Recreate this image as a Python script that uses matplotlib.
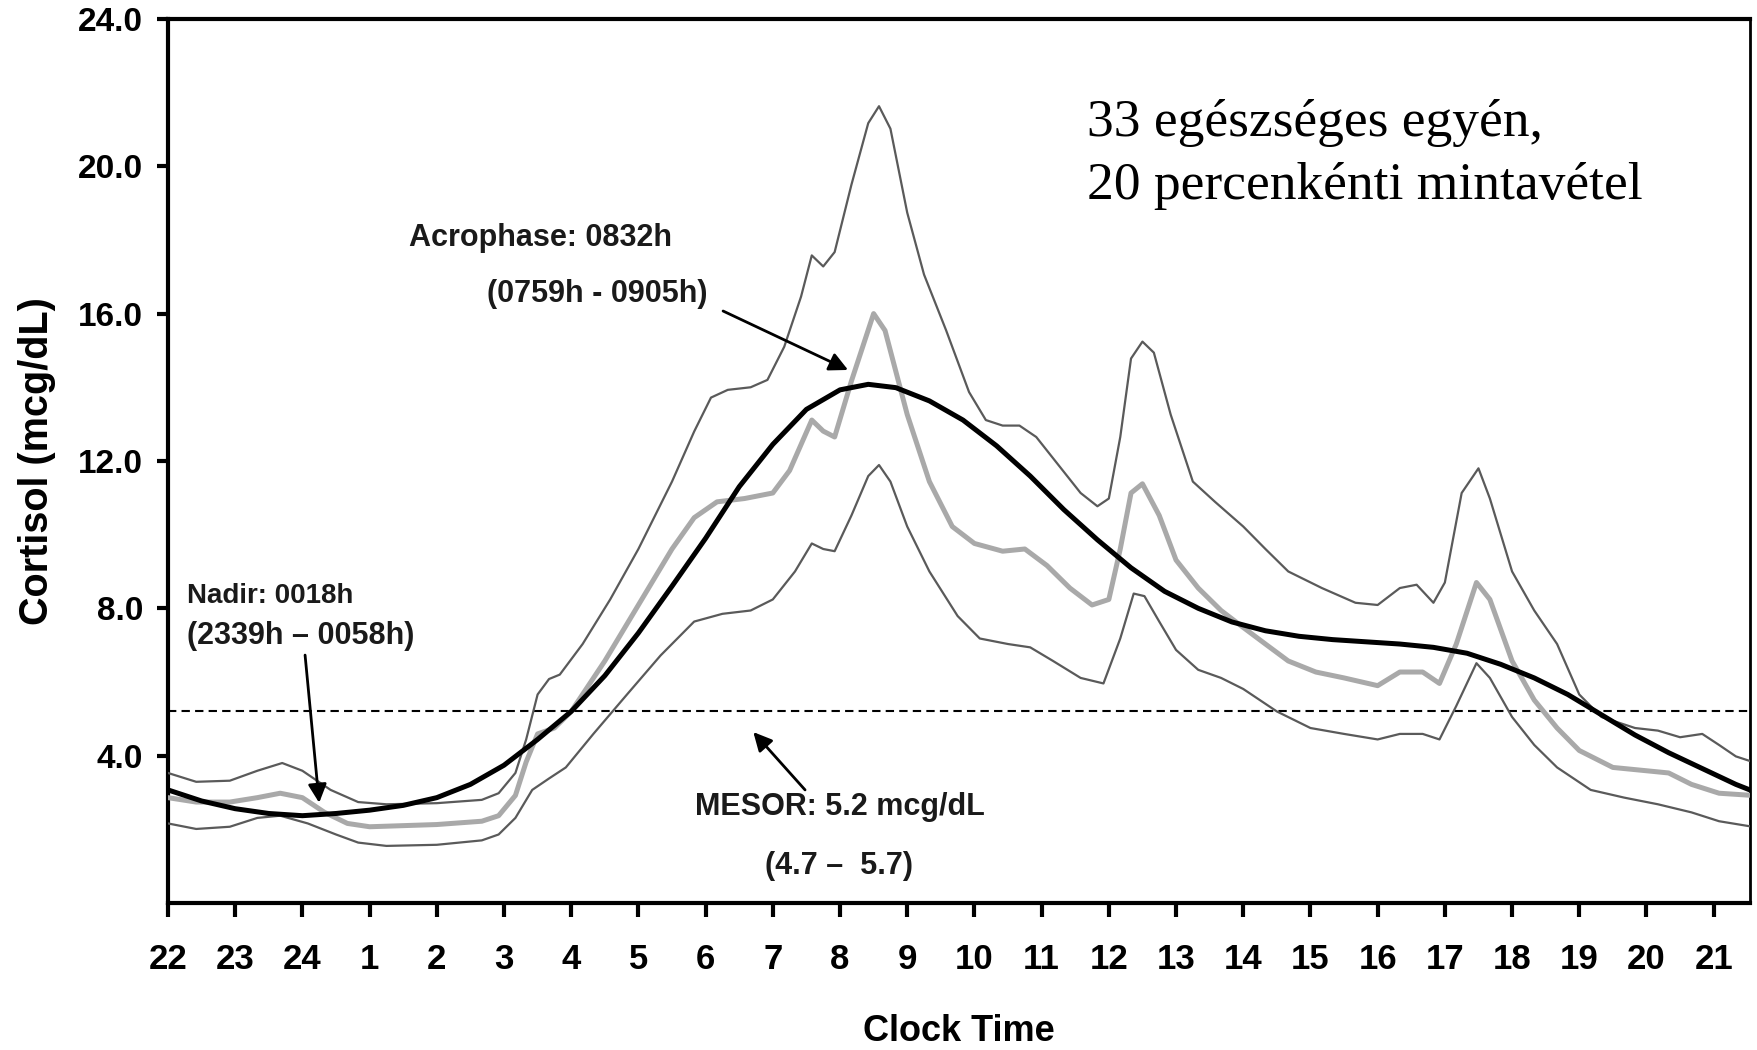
import matplotlib
matplotlib.use("Agg")
import matplotlib.pyplot as plt
import numpy as np

SANS = ["Liberation Sans", "DejaVu Sans"]
SERIF = ["Liberation Serif", "DejaVu Serif"]

# x positions are hours after 22:00
hour_labels = ["22", "23", "24", "1", "2", "3", "4", "5", "6", "7", "8", "9",
               "10", "11", "12", "13", "14", "15", "16", "17", "18", "19", "20", "21"]
y_ticks = [4.0, 8.0, 12.0, 16.0, 20.0, 24.0]

# upper percentile band
t_upper = [0, 0.42, 0.92, 1.33, 1.7, 2.0, 2.42, 2.83, 3.25, 4.0, 4.67, 4.92, 5.17, 5.33,
           5.5, 5.67, 5.83, 6.17, 6.58, 7.0, 7.5, 7.83, 8.08, 8.33, 8.67, 8.92, 9.17,
           9.42, 9.58, 9.75, 9.92, 10.17, 10.42, 10.58, 10.75, 11.0, 11.25, 11.58,
           11.92, 12.17, 12.42, 12.67, 12.92, 13.25, 13.58, 13.83, 14.0, 14.17, 14.33,
           14.5, 14.67, 14.92, 15.25, 15.58, 16.0, 16.33, 16.67, 17.17, 17.67, 18.0,
           18.33, 18.58, 18.83, 19.0, 19.25, 19.5, 19.67, 20.0, 20.33, 20.67, 21.0,
           21.33, 21.83, 22.17, 22.5, 22.83, 23.08, 23.33, 23.58]
upper = [3.53, 3.29, 3.32, 3.59, 3.80, 3.59, 3.07, 2.74, 2.68, 2.71, 2.80, 2.98, 3.53, 4.44,
         5.66, 6.08, 6.2, 7.03, 8.24, 9.61, 11.44, 12.8, 13.72, 13.93, 14.0, 14.2, 15.1,
         16.46, 17.58, 17.28, 17.67, 19.5, 21.17, 21.63, 21.02, 18.74, 17.06, 15.54,
         13.87, 13.11, 12.96, 12.96, 12.65, 11.89, 11.13, 10.77, 10.98, 12.65, 14.78,
         15.24, 14.94, 13.26, 11.44, 10.89, 10.22, 9.61, 9.0, 8.55, 8.15, 8.09,
         8.55, 8.64, 8.15, 8.7, 11.13, 11.8, 10.98, 9.0, 7.94, 7.03, 5.66,
         5.05, 4.75, 4.68, 4.5, 4.59, 4.29, 3.98, 3.83]

# mean of all subjects
t_mean = [0, 0.42, 0.92, 1.33, 1.67, 2.0, 2.33, 2.67, 3.0, 4.0, 4.67, 4.92, 5.17, 5.33, 5.5,
          5.75, 6.0, 6.5, 7.0, 7.5, 7.83, 8.17, 8.58, 9.0, 9.25, 9.58, 9.75, 9.92, 10.17,
          10.5, 10.67, 11.0, 11.33, 11.67, 12.0, 12.42, 12.75, 13.08, 13.42, 13.75, 14.0,
          14.17, 14.33, 14.5, 14.75, 15.0, 15.33, 15.67, 16.0, 16.33, 16.67, 17.08, 17.5,
          18.0, 18.33, 18.67, 18.92, 19.17, 19.47, 19.67, 20.0, 20.33, 20.67, 21.0, 21.5,
          22.0, 22.33, 22.67, 23.08, 23.58]
mean = [2.86, 2.74, 2.74, 2.86, 2.98, 2.86, 2.46, 2.16, 2.07, 2.13, 2.22, 2.37, 2.92, 3.83, 4.59,
        4.75, 5.2, 6.57, 8.09, 9.61, 10.46, 10.89, 10.98, 11.13, 11.74, 13.11, 12.81, 12.65, 14.17,
        16.0, 15.54, 13.26, 11.44, 10.22, 9.76, 9.55, 9.61, 9.16, 8.55, 8.09, 8.24,
        9.61, 11.13, 11.38, 10.52, 9.31, 8.55, 7.94, 7.48, 7.03, 6.57, 6.27, 6.11,
        5.9, 6.27, 6.27, 5.96, 7.03, 8.7, 8.24, 6.57, 5.51, 4.75, 4.14, 3.68,
        3.59, 3.53, 3.22, 2.98, 2.92]

# lower percentile band
t_lower = [0, 0.42, 0.92, 1.33, 1.67, 2.08, 2.5, 2.83, 3.25, 4.0, 4.67, 4.92, 5.17, 5.42, 5.67,
           5.92, 6.33, 6.83, 7.33, 7.83, 8.25, 8.67, 9.0, 9.33, 9.58, 9.75, 9.92, 10.17,
           10.42, 10.58, 10.75, 11.0, 11.33, 11.75, 12.08, 12.5, 12.83, 13.17, 13.58, 13.92,
           14.17, 14.37, 14.53, 14.75, 15.0, 15.33, 15.67, 16.0, 16.5, 17.0, 17.5, 18.0,
           18.33, 18.67, 18.92, 19.17, 19.47, 19.67, 20.0, 20.33, 20.67, 21.17, 21.67,
           22.17, 22.67, 23.08, 23.58]
lower = [2.16, 2.01, 2.07, 2.31, 2.37, 2.16, 1.86, 1.64, 1.55, 1.58, 1.70, 1.86, 2.31, 3.07, 3.38,
         3.68, 4.59, 5.66, 6.72, 7.64, 7.85, 7.94, 8.24, 9.0, 9.76, 9.61, 9.55, 10.52,
         11.59, 11.89, 11.44, 10.22, 9.0, 7.79, 7.18, 7.03, 6.94, 6.57, 6.11, 5.96,
         7.18, 8.4, 8.33, 7.64, 6.87, 6.33, 6.11, 5.81, 5.2, 4.75, 4.59, 4.44,
         4.59, 4.59, 4.44, 5.35, 6.51, 6.11, 5.05, 4.29, 3.68, 3.07, 2.86,
         2.68, 2.46, 2.22, 2.07]

# cosinor fit
t_fit = [0, 0.5, 1.0, 1.5, 2.0, 2.5, 3.0, 3.5, 4.0, 4.5, 5.0, 5.5, 6.0, 6.5, 7.0, 7.5, 8.0,
         8.5, 9.0, 9.5, 10.0, 10.42, 10.83, 11.33, 11.83, 12.33, 12.83, 13.33, 13.83,
         14.33, 14.83, 15.33, 15.83, 16.33, 16.83, 17.33, 17.83, 18.33, 18.83, 19.33,
         19.83, 20.33, 20.83, 21.33, 21.83, 22.33, 22.83, 23.33, 23.58]
fit = [3.07, 2.77, 2.56, 2.43, 2.37, 2.43, 2.52, 2.65, 2.86, 3.22, 3.74, 4.44, 5.2, 6.17, 7.33,
       8.6, 9.9, 11.3, 12.45, 13.4, 13.93, 14.08, 13.99, 13.63, 13.11, 12.41, 11.59, 10.68,
       9.86, 9.1, 8.46, 8.0, 7.63, 7.39, 7.24, 7.15, 7.09, 7.03, 6.94, 6.78, 6.48, 6.11,
       5.66, 5.11, 4.56, 4.08, 3.65, 3.22, 3.04]

mesor = 5.2

fig = plt.figure(figsize=(17.57, 10.5), dpi=100)
ax = fig.add_axes([0.0956, 0.14, 0.9004, 0.842])

ax.plot(t_upper, upper, color="#5a5a5a", lw=1.6, zorder=3)
ax.plot(t_lower, lower, color="#5a5a5a", lw=1.6, zorder=3)
ax.plot(t_mean, mean, color="#a9a9a9", lw=3.6, zorder=4)
ax.plot(t_fit, fit, color="black", lw=3.6, zorder=5)
ax.axhline(mesor, color="black", lw=1.5, ls=(0, (4, 2.5)), zorder=2)

ax.set_xlim(0, 23.54)
ax.set_ylim(0, 24)
ax.set_xticks(range(len(hour_labels)))
ax.set_xticklabels(hour_labels, fontfamily=SANS, fontweight="bold", fontsize=25)
ax.set_yticks(y_ticks)
ax.set_yticklabels(["%.1f" % v for v in y_ticks], fontfamily=SANS, fontweight="bold",
                   fontsize=24)
ax.tick_params(axis="x", direction="out", length=10, width=3, pad=19)
ax.tick_params(axis="y", direction="out", length=8, width=3, pad=10)

for side in ["left", "bottom", "top"]:
    ax.spines[side].set_linewidth(3)
ax.spines["right"].set_linewidth(2)

ax.set_xlabel("Clock Time", fontfamily=SANS, fontweight="bold", fontsize=26, labelpad=27)
ax.set_ylabel("Cortisol (mcg/dL)", fontfamily=SANS, fontweight="bold", fontsize=28.5,
              labelpad=16)

note = dict(fontfamily=SANS, fontweight="bold", fontsize=22, color="#1a1a1a")
arrow = dict(arrowstyle="-|>", color="black", lw=2, mutation_scale=28, shrinkA=0, shrinkB=0)

ax.text(3.59, 18.06, "Acrophase: 0832h", ha="left", va="center", **note)
ax.text(4.75, 16.54, "(0759h - 0905h)", ha="left", va="center", **note)
ax.annotate("", xy=(10.12, 14.47), xytext=(8.26, 16.07), arrowprops=arrow)

ax.text(0.28, 8.34, "Nadir: 0018h", ha="left", va="center", **dict(note, fontsize=20))
ax.text(0.28, 7.25, "(2339h \u2013 0058h)", ha="left", va="center", **note)
ax.annotate("", xy=(2.25, 2.72), xytext=(2.04, 6.73), arrowprops=arrow)

ax.text(7.84, 2.61, "MESOR: 5.2 mcg/dL", ha="left", va="center", **note)
ax.text(8.88, 1.0, "(4.7 \u2013  5.7)", ha="left", va="center", **note)
ax.annotate("", xy=(8.71, 4.64), xytext=(9.48, 3.07), arrowprops=arrow)

fig.text(1087 / 1757, 1 - 136 / 1050, "33 egészséges egyén,", fontfamily=SERIF,
         fontsize=38.5, ha="left", va="baseline")
fig.text(1087 / 1757, 1 - 199 / 1050, "20 percenkénti mintavétel", fontfamily=SERIF,
         fontsize=38.5, ha="left", va="baseline")

fig.savefig("out.png", dpi=100)
